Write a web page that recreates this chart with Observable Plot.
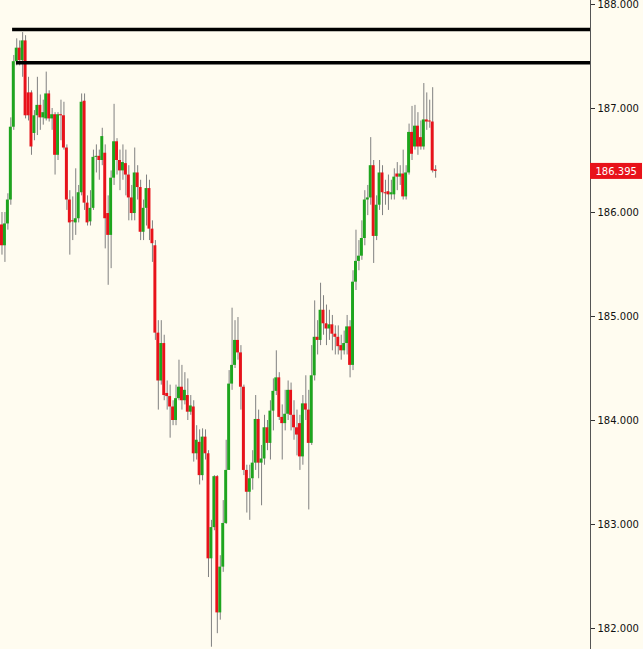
<!DOCTYPE html>
<html><head><meta charset="utf-8">
<script src="https://cdn.jsdelivr.net/npm/d3@7"></script>
<script src="https://cdn.jsdelivr.net/npm/@observablehq/plot@0.6"></script>
<style>html,body{margin:0;padding:0;background:#fffcf0;overflow:hidden}</style>
</head><body><div id="chart"></div>
<script>
const opens = [185.88,185.68,185.89,186.12,186.82,187.45,187.58,187.46,187.65,187.15,187.15,186.76,186.93,187.03,186.91,186.90,187.14,186.90,186.94,186.55,186.94,186.93,186.62,186.12,185.92,185.90,185.94,186.19,187.07,186.09,185.91,186.04,186.53,186.54,186.50,186.57,185.99,185.78,186.33,186.68,186.50,186.40,186.47,186.36,186.14,185.99,186.38,186.24,185.81,186.04,186.23,185.84,185.68,184.84,184.38,184.74,184.26,184.23,184.13,184.00,184.21,184.32,184.19,184.24,184.08,184.13,183.68,183.79,183.47,183.84,183.68,182.67,182.97,183.46,182.15,182.59,183.01,183.52,184.35,184.53,184.77,184.65,184.32,183.52,183.31,183.44,183.59,184.01,183.59,183.63,183.93,183.78,184.09,184.28,184.41,184.03,183.97,184.06,184.29,184.05,183.93,183.97,183.65,184.16,184.10,183.78,184.43,184.80,184.77,185.06,184.93,184.88,184.92,184.83,184.80,184.72,184.67,184.74,184.90,184.53,185.33,185.53,185.58,185.75,186.12,186.14,186.45,185.77,186.07,186.38,186.19,186.20,186.17,186.17,186.37,186.34,186.37,186.15,186.38,186.77,186.63,186.83,186.72,186.63,186.89,186.88,186.87,186.41];
const highs = [186.00,186.00,186.18,186.91,187.51,187.67,187.65,187.73,187.70,187.30,187.17,186.98,187.30,187.13,187.08,187.35,187.17,187.00,186.96,186.96,187.08,187.06,186.65,186.21,186.15,186.42,186.26,187.14,187.14,186.16,186.21,186.60,186.65,186.60,186.81,186.65,186.16,186.40,187.04,186.71,186.60,186.65,186.60,186.45,186.26,186.62,186.45,186.31,186.12,186.36,186.31,185.92,185.73,184.96,184.96,184.82,184.38,184.34,184.19,184.34,184.58,184.53,184.46,184.40,184.24,184.19,183.95,183.91,183.92,183.91,183.71,183.04,183.47,183.47,182.70,183.23,183.81,184.48,185.08,184.96,184.99,184.72,184.34,183.57,183.57,183.71,184.24,184.10,183.76,184.05,184.00,184.19,184.40,184.67,184.46,184.15,184.29,184.38,184.36,184.19,184.10,184.05,184.24,184.43,184.29,184.72,185.15,184.96,185.32,185.20,185.11,185.06,185.01,184.91,184.91,184.82,184.86,185.01,184.96,185.44,185.83,185.73,185.92,186.21,186.26,186.72,186.50,186.16,186.50,186.45,186.31,186.36,186.31,186.42,186.48,186.45,186.60,186.45,186.85,187.02,187.03,186.96,186.88,187.24,187.15,187.08,187.20,186.45];
const lows = [185.59,185.52,185.83,186.07,186.79,187.41,187.41,187.30,186.90,186.88,186.55,186.69,186.74,186.79,186.84,186.88,186.87,186.79,186.36,186.50,186.69,186.60,186.02,185.59,185.73,185.78,185.90,186.16,186.02,185.87,185.87,186.02,186.38,186.31,186.45,185.65,185.30,185.46,186.26,186.36,186.21,186.31,186.16,185.92,185.92,185.92,186.12,185.73,185.73,185.87,185.73,185.52,184.77,184.10,184.34,184.19,184.10,183.83,183.95,183.95,184.19,184.10,184.15,184.00,184.05,183.60,183.62,183.38,183.42,183.62,182.49,181.82,182.94,181.95,182.08,182.54,183.00,183.52,184.29,184.50,184.58,184.10,183.47,183.11,183.04,183.33,183.52,183.44,183.18,183.57,183.71,183.62,183.90,184.24,184.00,183.62,183.90,184.00,183.90,183.81,183.66,183.52,183.57,184.00,183.14,183.76,184.38,184.63,184.72,184.82,184.72,184.77,184.67,184.63,184.63,184.58,184.63,184.63,184.41,184.48,185.25,185.44,185.54,185.68,185.97,186.07,185.51,185.73,186.02,185.97,186.07,186.02,186.12,186.12,186.21,186.26,186.12,186.12,186.36,186.50,186.60,186.55,186.60,186.60,186.79,186.81,186.38,186.33];
const closes = [185.68,185.89,186.12,186.82,187.45,187.58,187.46,187.65,186.93,186.93,186.63,186.93,187.03,186.91,186.96,187.14,186.90,186.94,186.55,186.94,186.93,186.62,186.12,185.90,185.91,185.94,186.19,187.06,186.09,185.90,186.04,186.53,186.54,186.50,186.73,185.94,185.78,186.33,186.68,186.50,186.40,186.48,186.36,186.14,185.99,186.38,186.24,185.81,186.04,186.23,185.84,185.70,184.84,184.38,184.74,184.24,184.23,184.13,184.00,184.21,184.32,184.19,184.29,184.08,184.14,183.68,183.81,183.47,183.84,183.68,182.67,182.97,183.46,182.15,182.59,183.01,183.52,184.35,184.53,184.77,184.65,184.32,183.52,183.31,183.44,183.59,184.01,183.59,183.63,183.93,183.78,184.09,184.28,184.41,184.03,183.97,184.06,184.29,184.05,183.93,183.86,183.65,184.16,184.10,183.78,184.43,184.80,184.77,185.06,184.93,184.88,184.92,184.83,184.80,184.71,184.67,184.74,184.90,184.53,185.33,185.53,185.58,185.75,186.12,186.14,186.45,185.77,186.07,186.38,186.19,186.18,186.17,186.19,186.34,186.34,186.37,186.15,186.38,186.77,186.56,186.83,186.63,186.63,186.89,186.87,186.87,186.40,186.395];
const levels = [187.76, 187.44];
const levelStartBar = [3.6, 4.9];
const yTicks = [182, 183, 184, 185, 186, 187, 188];
const lastPrice = 186.395;
const totalSlots = 200;

const bars = opens.map((o, i) => ({
  i, o, c: closes[i], h: highs[i], l: lows[i],
  top: Math.max(o, closes[i]), bot: Math.min(o, closes[i]),
  up: closes[i] >= o
}));
const lvl = levels.map((v, k) => ({v, s: levelStartBar[k]}));

const W = 643, H = 649;
const xMax = totalSlots - 0.5;
const pxPerSlot = 590 / totalSlots;
const pxPerUnit = (628 - 4) / 6;

const chart = Plot.plot({
  width: W, height: H,
  marginLeft: 0, marginRight: 53, marginTop: 4, marginBottom: 21,
  style: {background: "#fffcf0", fontFamily: "DejaVu Sans, sans-serif", fontSize: "10px", color: "#111", overflow: "visible"},
  x: {domain: [-0.5, xMax], axis: null},
  y: {domain: [182, 188], axis: null},
  marks: [
    Plot.ruleX(bars, {x: "i", y1: "l", y2: "h", stroke: "#808080", strokeWidth: 1}),
    Plot.rectY(bars, {
      x1: d => d.i - 0.5, x2: d => d.i + 0.5,
      y1: "bot", y2: d => Math.max(d.top, d.bot + 0.6 / pxPerUnit),
      fill: d => d.up ? "#1ea51e" : "#e8121a"
    }),
    Plot.ruleY(lvl, {y: "v", x1: "s", x2: xMax, stroke: "#000", strokeWidth: 3.5}),
    Plot.axisY(yTicks, {anchor: "right", tickSize: 4, tickPadding: 3, tickFormat: d3.format(".3f"), fontSize: 10, stroke: "#333"}),
    Plot.ruleX([xMax], {y1: 188 + 4 / pxPerUnit, y2: 182 - 21 / pxPerUnit, stroke: "#555", strokeWidth: 1}),
    Plot.rect([lastPrice], {
      x1: xMax, x2: xMax + 52 / pxPerSlot,
      y1: d => d - 8 / pxPerUnit, y2: d => d + 8 / pxPerUnit,
      fill: "#e8121a"
    }),
    Plot.text([lastPrice], {
      x: xMax, y: d => d, dx: 5, text: d => d3.format(".3f")(d),
      textAnchor: "start", fill: "#fff", fontSize: 10
    })
  ]
});
document.getElementById("chart").appendChild(chart);
</script>
</body></html>
